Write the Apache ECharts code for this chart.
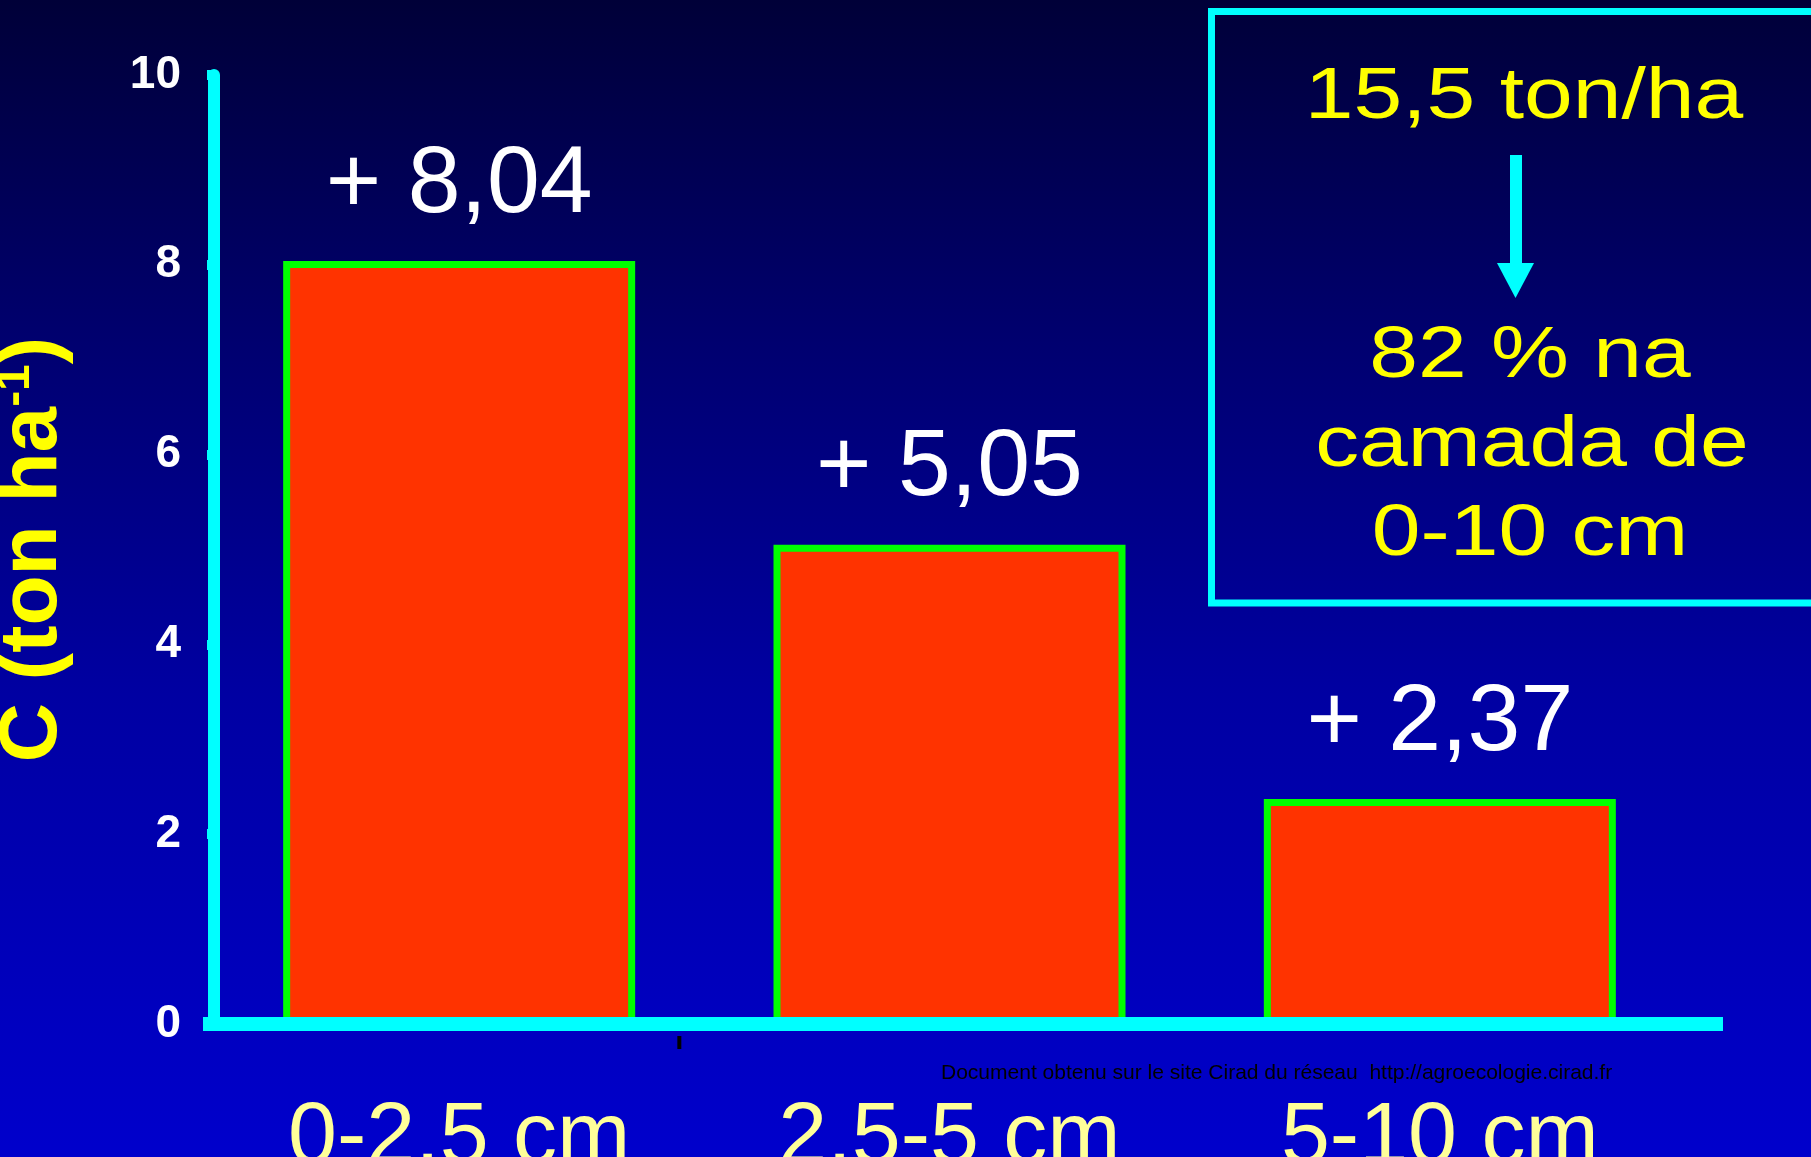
<!DOCTYPE html>
<html>
<head>
<meta charset="utf-8">
<script src="https://cdn.jsdelivr.net/npm/echarts@6/dist/echarts.min.js"></script>
<style>
  html, body { margin: 0; padding: 0; background: #000; }
  #chart { width: 1811px; height: 1157px; }
</style>
</head>
<body>
<div id="chart"></div>
<script>
// Soil carbon gain by depth layer (ton/ha)
const categories = ['0-2,5 cm', '2,5-5 cm', '5-10 cm'];
const carbonGain = [8.04, 5.05, 2.37];
const yTicks = [0, 2, 4, 6, 8, 10];
const boxLines = ['15,5 ton/ha', '82 % na', 'camada de', '0-10 cm'];
const footnote = 'Document obtenu sur le site Cirad du réseau  http://agroecologie.cirad.fr';

const FONT = '"Liberation Sans", Arial, Helvetica, sans-serif';
const CYAN = '#00ffff';

const chart = echarts.init(document.getElementById('chart'), null, { renderer: 'canvas' });

const option = {
  animation: false,
  backgroundColor: new echarts.graphic.LinearGradient(0, 0, 0, 1, [
    { offset: 0, color: '#000038' },
    { offset: 0.3, color: '#000070' },
    { offset: 0.6, color: '#0000a2' },
    { offset: 1, color: '#0000cc' }
  ]),
  grid: { left: 214, right: 126, top: 75, bottom: 133, containLabel: false, outerBoundsMode: 'none' },
  xAxis: {
    type: 'category',
    data: categories,
    z: 5,
    axisLine: { show: true, lineStyle: { color: CYAN, width: 14 } },
    axisTick: { show: false },
    axisLabel: { color: '#ffff99', fontSize: 88, fontFamily: FONT, margin: 71 },
    splitLine: { show: false }
  },
  yAxis: {
    type: 'value',
    min: yTicks[0],
    max: yTicks[yTicks.length - 1],
    interval: yTicks[1] - yTicks[0],
    axisLine: { show: true, lineStyle: { color: CYAN, width: 12 } },
    axisTick: { show: true, length: 7, lineStyle: { color: CYAN, width: 10 } },
    splitLine: { show: false },
    axisLabel: { color: '#ffffff', fontWeight: 'bold', fontSize: 46, fontFamily: FONT, margin: 33 },
    name: '{m|C (ton ha}{s|-1}{m|)}',
    nameLocation: 'middle',
    nameRotate: 90,
    nameGap: 140,
    nameTextStyle: {
      rich: {
        m: { fontSize: 82, fontWeight: 'bold', color: '#ffff00', fontFamily: FONT },
        s: { fontSize: 48, fontWeight: 'bold', color: '#ffff00', fontFamily: FONT, verticalAlign: 'top' }
      }
    }
  },
  series: [{
    type: 'bar',
    data: carbonGain,
    barWidth: 352,
    itemStyle: { color: '#ff3300', borderColor: '#00ff00', borderWidth: 7 },
    label: {
      show: true,
      position: 'top',
      distance: 28,
      color: '#ffffff',
      fontSize: 95,
      fontFamily: FONT,
      formatter: p => '+ ' + p.value.toFixed(2).replace('.', ',')
    }
  }]
};

chart.setOption(option);

// Annotation box, arrow, footnote and the divider tick under the axis
const xA = chart.convertToPixel({ xAxisIndex: 0 }, categories[0]);
const xB = chart.convertToPixel({ xAxisIndex: 0 }, categories[1]);
const yZero = chart.convertToPixel({ yAxisIndex: 0 }, 0);
const gridRight = 1811 - 126;

const boxCenters = [98, 357, 446, 535];
const boxX = [1524, 1530, 1532, 1530];
const graphic = [
  { type: 'rect', shape: { x: gridRight, y: yZero - 7, width: 38, height: 14 }, style: { fill: CYAN }, z: 10 },
  { type: 'rect', shape: { x: 203, y: yZero - 7, width: 14, height: 14 }, style: { fill: CYAN }, z: 10 },
  { type: 'line', shape: { x1: (xA + xB) / 2 - 25, y1: yZero + 12, x2: (xA + xB) / 2 - 25, y2: yZero + 25 }, style: { stroke: '#000', lineWidth: 4 }, z: 10 },
  { type: 'rect', shape: { x: 1211.5, y: 11.5, width: 700, height: 591.5 }, style: { fill: 'none', stroke: CYAN, lineWidth: 7 }, z: 10 },
  { type: 'rect', shape: { x: 1510, y: 155, width: 12, height: 110 }, style: { fill: CYAN }, z: 10 },
  { type: 'polygon', shape: { points: [[1497, 263], [1534, 263], [1515.5, 298]] }, style: { fill: CYAN }, z: 10 },
  {
    type: 'text', x: 941, y: 1073, z: 10,
    style: { text: footnote, fill: '#000', font: '21px ' + FONT, textAlign: 'left', textVerticalAlign: 'middle' }
  }
];
boxLines.forEach((t, i) => {
  graphic.push({
    type: 'text', x: boxX[i], y: boxCenters[i], scaleX: 1.2, z: 10,
    style: { text: t, fill: '#ffff00', font: '73px ' + FONT, textAlign: 'center', textVerticalAlign: 'middle' }
  });
});
chart.setOption({ graphic: graphic });
</script>
</body>
</html>
